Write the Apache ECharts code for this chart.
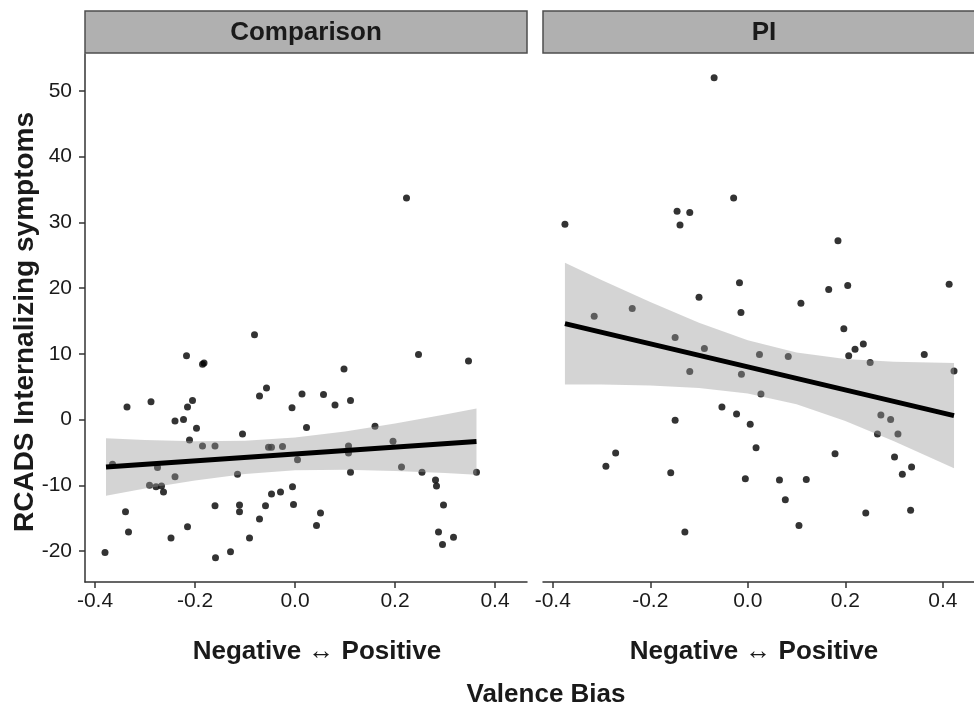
<!DOCTYPE html>
<html>
<head>
<meta charset="utf-8">
<script src="https://cdn.jsdelivr.net/npm/echarts@6/dist/echarts.min.js"></script>
<style>
  html, body { margin: 0; padding: 0; background: #ffffff; }
  #chart { width: 974px; height: 707px; }
</style>
</head>
<body>
<div id="chart"></div>
<script>
// ---- Data ----
const panels = ['Comparison', 'PI'];
const xTicks = [-0.4, -0.2, 0.0, 0.2, 0.4];
const yTicks = [-20, -10, 0, 10, 20, 30, 40, 50];
const xTitle = 'Negative \u2194 Positive';
const outerXTitle = 'Valence Bias';
const yTitle = 'RCADS Internalizing symptoms';

const compX = [-0.38, -0.336, -0.339, -0.333, -0.365, -0.288, -0.275, -0.291, -0.278, -0.267,
  -0.263, -0.24, -0.223, -0.215, -0.205, -0.217, -0.185, -0.182, -0.197, -0.211,
  -0.185, -0.16, -0.24, -0.248, -0.215, -0.16, -0.159, -0.129, -0.081, -0.071,
  -0.057, -0.105, -0.115, -0.111, -0.111, -0.091, -0.071, -0.059, -0.047, -0.029,
  -0.005, -0.003, -0.053, -0.047, -0.025, 0.005, -0.006, 0.014, 0.023, 0.223,
  0.247, 0.347, 0.057, 0.08, 0.098, 0.111, 0.16, 0.107, 0.107, 0.111,
  0.196, 0.213, 0.254, 0.281, 0.283, 0.297, 0.287, 0.295, 0.317, 0.363,
  0.043, 0.051];
const compY = [-20.2, 1.9, -14.0, -17.1, -6.8, 2.7, -7.3, -10.0, -10.2, -10.1,
  -11.0, -0.2, 0.0, 1.9, 2.9, 9.7, 8.4, 8.6, -1.3, -3.1,
  -4.0, -4.0, -8.7, -18.0, -16.3, -13.1, -21.0, -20.1, 12.9, 3.6,
  4.8, -2.2, -8.3, -13.0, -14.0, -18.0, -15.1, -13.1, -11.3, -11.0,
  -10.2, -12.9, -4.2, -4.2, -4.1, -6.1, 1.8, 3.9, -1.2, 33.7,
  9.9, 8.9, 3.8, 2.2, 7.7, 2.9, -1.0, -4.0, -5.1, -8.0,
  -3.3, -7.2, -8.0, -9.2, -10.1, -13.0, -17.1, -19.0, -17.9, -8.0,
  -16.1, -14.2];

const piX = [-0.069, -0.375, -0.145, -0.119, -0.139, -0.029, -0.017, -0.014, -0.1, -0.237,
  -0.315, -0.149, -0.089, -0.119, -0.013, -0.053, -0.023, -0.149, -0.271, -0.291,
  -0.158, -0.129, -0.005, 0.185, 0.166, 0.205, 0.413, 0.109, 0.197, 0.22,
  0.237, 0.207, 0.362, 0.024, 0.083, 0.251, 0.423, 0.027, 0.005, 0.017,
  0.065, 0.12, 0.077, 0.105, 0.179, 0.242, 0.273, 0.293, 0.266, 0.308,
  0.301, 0.336, 0.317, 0.334];
const piY = [52.0, 29.7, 31.7, 31.5, 29.6, 33.7, 20.8, 16.3, 18.6, 16.9,
  15.7, 12.5, 10.8, 7.3, 6.9, 1.9, 0.85, -0.1, -5.1, -7.1,
  -8.1, -17.1, -9.0, 27.2, 19.8, 20.4, 20.6, 17.7, 13.8, 10.7,
  11.5, 9.7, 9.9, 9.9, 9.6, 8.7, 7.4, 3.9, -0.7, -4.3,
  -9.2, -9.1, -12.2, -16.1, -5.2, -14.2, 0.7, 0.0, -2.2, -2.2,
  -5.7, -7.2, -8.3, -13.8];

// fitted lines (endpoints) and confidence bands
const compFitX = [-0.378, 0.363];
const compFitY = [-7.2, -3.35];
const compBandX = [-0.378, -0.3, -0.2, -0.1, 0.0, 0.1, 0.2, 0.3, 0.363];
const compBandLo = [-11.57, -10.49, -9.25, -8.27, -7.72, -7.62, -7.80, -8.13, -8.38];
const compBandHi = [-2.83, -3.09, -3.29, -3.23, -2.74, -1.80, -0.58, 0.79, 1.70];

const piFitX = [-0.375, 0.423];
const piFitY = [14.6, 0.6];
const piBandX = [-0.375, -0.3, -0.2, -0.1, 0.0, 0.1, 0.2, 0.3, 0.423];
const piBandLo = [5.35, 5.32, 5.19, 4.82, 3.98, 2.32, -0.21, -3.28, -7.4];
const piBandHi = [23.85, 21.24, 17.87, 14.74, 12.06, 10.22, 9.23, 8.80, 8.6];

// ---- Build chart ----
const FONT = '"Liberation Sans", Arial, "DejaVu Sans", sans-serif';
const TXT = '#1a1a1a';
const AX = '#333333';

const panelData = [
  { px: compX, py: compY, fx: compFitX, fy: compFitY, bx: compBandX, lo: compBandLo, hi: compBandHi },
  { px: piX, py: piY, fx: piFitX, fy: piFitY, bx: piBandX, lo: piBandLo, hi: piBandHi }
];

const gridLeft = [85, 543];
const gridTop = 54, gridH = 528, gridW = 442;

const grids = gridLeft.map(l => ({ left: l, top: gridTop, width: gridW, height: gridH }));

const xAxes = [0, 1].map(i => ({
  type: 'value', gridIndex: i, min: -0.42, max: 0.464,
  axisLine: { show: true, onZero: false, lineStyle: { color: AX, width: 1.5 } },
  axisTick: { show: true, length: 6, lineStyle: { color: AX, width: 1.5 }, customValues: xTicks },
  axisLabel: { show: true, margin: 9, color: TXT, fontSize: 21, fontFamily: FONT,
    customValues: xTicks, formatter: v => v.toFixed(1) },
  splitLine: { show: false }
}));

const yAxes = [0, 1].map(i => ({
  type: 'value', gridIndex: i, min: -24.7, max: 55.6,
  axisLine: { show: i === 0, onZero: false, lineStyle: { color: AX, width: 1.5 } },
  axisTick: { show: i === 0, length: 6, lineStyle: { color: AX, width: 1.5 }, customValues: yTicks },
  axisLabel: { show: i === 0, margin: 13, color: TXT, fontSize: 21, fontFamily: FONT,
    customValues: yTicks, formatter: v => String(v) },
  splitLine: { show: false }
}));

const series = [];
panelData.forEach((p, i) => {
  series.push({
    type: 'scatter', xAxisIndex: i, yAxisIndex: i, z: 2,
    symbol: 'circle', symbolSize: 7,
    itemStyle: { color: '#000000' },
    data: p.px.map((x, k) => [x, p.py[k]]),
    silent: true
  });
  series.push({
    type: 'custom', xAxisIndex: i, yAxisIndex: i, z: 3,
    data: p.bx.map((x, k) => [x, p.lo[k], p.hi[k]]),
    encode: { x: 0, y: [1, 2] },
    silent: true,
    renderItem: (params, api) => {
      if (params.dataIndex !== 0) return null;
      const top = p.bx.map((x, k) => api.coord([x, p.hi[k]]));
      const bot = p.bx.map((x, k) => api.coord([x, p.lo[k]])).reverse();
      return {
        type: 'polygon',
        shape: { points: top.concat(bot) },
        style: { fill: 'rgba(153,153,153,0.42)', stroke: null }
      };
    }
  });
  series.push({
    type: 'line', xAxisIndex: i, yAxisIndex: i, z: 4,
    symbol: 'none', silent: true,
    lineStyle: { color: '#000000', width: 5 },
    data: p.fx.map((x, k) => [x, p.fy[k]])
  });
});

const graphic = [];
panels.forEach((name, i) => {
  graphic.push({
    type: 'rect', z: 10,
    shape: { x: gridLeft[i], y: 11, width: gridW, height: 42 },
    style: { fill: '#b0b0b0', stroke: '#4d4d4d', lineWidth: 1.5 }
  });
  graphic.push({
    type: 'text', z: 11,
    x: gridLeft[i] + gridW / 2, y: 33,
    style: { text: name, fill: TXT, fontSize: 26, fontWeight: 'bold', fontFamily: FONT,
      align: 'center', verticalAlign: 'middle' }
  });
});
[317, 754].forEach(cx => {
  graphic.push({
    type: 'text', x: cx, y: 652,
    style: { text: xTitle, fill: TXT, fontSize: 26, fontWeight: 'bold', fontFamily: FONT,
      align: 'center', verticalAlign: 'middle' }
  });
});
graphic.push({
  type: 'text', x: 546, y: 695,
  style: { text: outerXTitle, fill: TXT, fontSize: 26, fontWeight: 'bold', fontFamily: FONT,
    align: 'center', verticalAlign: 'middle' }
});
graphic.push({
  type: 'text', x: 25, y: 322, rotation: Math.PI / 2,
  style: { text: yTitle, fill: TXT, fontSize: 28, fontWeight: 'bold', fontFamily: FONT,
    align: 'center', verticalAlign: 'middle' }
});

const chart = echarts.init(document.getElementById('chart'), null, { renderer: 'canvas' });
chart.setOption({
  backgroundColor: '#ffffff',
  animation: false,
  grid: grids,
  xAxis: xAxes,
  yAxis: yAxes,
  series: series,
  graphic: graphic
});
</script>
</body>
</html>
